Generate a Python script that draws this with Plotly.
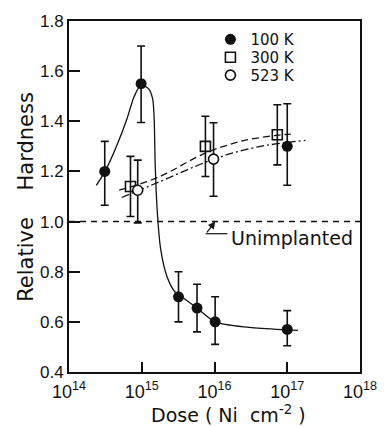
import plotly.graph_objects as go

# ---- data ----
dose_100 = [3.1e14, 9.8e14, 3.2e15, 5.75e15, 1.02e16, 1.0e17, 1.0e17]
hard_100 = [1.20, 1.55, 0.70, 0.655, 0.60, 0.57, 1.30]
err_100_up = [0.12, 0.15, 0.10, 0.095, 0.10, 0.075, 0.17]
err_100_dn = [0.135, 0.155, 0.10, 0.095, 0.09, 0.065, 0.155]

dose_300 = [7.0e14, 7.5e15, 7.3e16]
hard_300 = [1.14, 1.30, 1.346]
err_300 = [0.12, 0.12, 0.12]

dose_523 = [8.8e14, 9.7e15]
hard_523 = [1.125, 1.249]
err_523_up = [0.12, 0.145]
err_523_dn = [0.13, 0.148]

# hand-drawn fit curves
curve100_x = [2.37e14, 3.13e14, 4.6e14, 6.3e14, 7.8e14, 9.8e14, 1.245e15, 1.41e15,
              1.48e15, 1.53e15, 1.64e15, 1.82e15, 2.19e15, 2.85e15, 3.24e15,
              5.75e15, 1.02e16, 3.0e16, 1.0e17, 1.4e17]
curve100_y = [1.144, 1.20, 1.307, 1.412, 1.496, 1.545, 1.529, 1.49,
              1.412, 1.229, 1.034, 0.89, 0.786, 0.72, 0.708,
              0.655, 0.60, 0.578, 0.568, 0.566]

curve300_x = [4.9e14, 1.7e15, 7.2e15, 2.3e16, 7.1e16, 1.12e17]
curve300_y = [1.125, 1.177, 1.271, 1.32, 1.344, 1.349]

curve523_x = [5.3e14, 1.7e15, 9.8e15, 3.8e16, 1.78e17]
curve523_y = [1.096, 1.157, 1.249, 1.297, 1.324]

unimpl_x = [1e14, 1e18]
unimpl_y = [1.0, 1.0]

x_ticks = [1e14, 1e15, 1e16, 1e17, 1e18]
x_ticktext = ["10<sup>14</sup>", "10<sup>15</sup>", "10<sup>16</sup>",
              "10<sup>17</sup>", "10<sup>18</sup>"]
y_ticks = [0.4, 0.6, 0.8, 1.0, 1.2, 1.4, 1.6, 1.8]

BLACK = "#111111"
TICKFONT = dict(family="Liberation Sans, Arial, sans-serif", size=18, color=BLACK)
TEXTFONT = dict(family="DejaVu Sans, sans-serif", size=19, color=BLACK)
LEGFONT = dict(family="DejaVu Sans, sans-serif", size=15, color=BLACK)

fig = go.Figure()

# reference line
fig.add_trace(go.Scatter(x=unimpl_x, y=unimpl_y, mode="lines", showlegend=False,
                         line=dict(color=BLACK, width=1.4, dash="6px,5px"),
                         hoverinfo="skip"))

# fit curves
fig.add_trace(go.Scatter(x=curve100_x, y=curve100_y, mode="lines", showlegend=False,
                         line=dict(color=BLACK, width=1.3, shape="spline", smoothing=0.8)))
fig.add_trace(go.Scatter(x=curve300_x, y=curve300_y, mode="lines", showlegend=False,
                         line=dict(color=BLACK, width=1.3, shape="spline", dash="7px,4px")))
fig.add_trace(go.Scatter(x=curve523_x, y=curve523_y, mode="lines", showlegend=False,
                         line=dict(color=BLACK, width=1.3, shape="spline", dash="8px,3px,2px,3px")))

errstyle = dict(type="data", symmetric=False, color=BLACK, thickness=1.6, width=4)

fig.add_trace(go.Scatter(
    x=dose_100, y=hard_100, mode="markers", name="100 K", legend="legend",
    marker=dict(symbol="circle", size=11, color=BLACK),
    error_y=dict(array=err_100_up, arrayminus=err_100_dn, **errstyle)))
fig.add_trace(go.Scatter(
    x=dose_300, y=hard_300, mode="markers", name="300 K", legend="legend2",
    marker=dict(symbol="square-open", size=10, color=BLACK, line=dict(width=1.6)),
    error_y=dict(array=err_300, arrayminus=err_300, **errstyle)))
fig.add_trace(go.Scatter(
    x=dose_523, y=hard_523, mode="markers", name="523 K", legend="legend3",
    marker=dict(symbol="circle", size=10, color="white", line=dict(width=1.6, color=BLACK)),
    error_y=dict(array=err_523_up, arrayminus=err_523_dn, **errstyle)))

# annotation "Unimplanted" with arrow
fig.add_annotation(x=16.01, y=1.0, xref="x", yref="y", ax=15.88, ay=0.951,
                   axref="x", ayref="y", text="", showarrow=True,
                   arrowhead=2, arrowsize=1.2, arrowwidth=1.2, arrowcolor=BLACK)
fig.add_shape(type="line", xref="paper", yref="paper", x0=0.4696, x1=0.544,
              y0=0.394, y1=0.394, line=dict(color=BLACK, width=1.2))
fig.add_annotation(x=0.551, y=0.383, xref="paper", yref="paper", xanchor="left",
                   yanchor="middle", text="Unimplanted", showarrow=False, font=TEXTFONT)

# axis titles
fig.add_annotation(x=0.5473, y=-0.12, xref="paper", yref="paper", xanchor="center",
                   yanchor="middle", showarrow=False, font=dict(TEXTFONT, size=19),
                   text="Dose ( Ni\u00a0\u00a0cm<sup>-2</sup> )")
fig.add_annotation(x=-0.15, y=0.5, xref="paper", yref="paper", xanchor="center",
                   yanchor="middle", showarrow=False, textangle=-90,
                   font=dict(TEXTFONT, size=21),
                   text="Relative\u00a0\u00a0\u00a0\u00a0Hardness")

fig.update_xaxes(type="log", range=[14, 18], tickvals=x_ticks, ticktext=x_ticktext,
                 ticks="inside", ticklen=10, tickwidth=1.6, tickcolor=BLACK,
                 showline=True, linecolor=BLACK, linewidth=2, mirror=True,
                 showgrid=False, zeroline=False, tickfont=TICKFONT, ticklabelstandoff=2)
fig.update_yaxes(range=[0.4, 1.8], tickvals=y_ticks, tickformat=".1f",
                 ticks="inside", ticklen=11, tickwidth=1.6, tickcolor=BLACK,
                 showline=True, linecolor=BLACK, linewidth=2, mirror=True,
                 showgrid=False, zeroline=False, tickfont=dict(TICKFONT, size=17))

leg_common = dict(x=0.486, xanchor="left", yanchor="middle", bgcolor="rgba(0,0,0,0)",
                  borderwidth=0, font=LEGFONT, itemwidth=30)

fig.update_layout(
    width=389, height=427,
    margin=dict(l=69, r=24, t=14, b=55),
    plot_bgcolor="white", paper_bgcolor="white",
    legend=dict(y=0.947, **leg_common),
    legend2=dict(y=0.896, **leg_common),
    legend3=dict(y=0.845, **leg_common),
)

fig.write_html("out.html")
